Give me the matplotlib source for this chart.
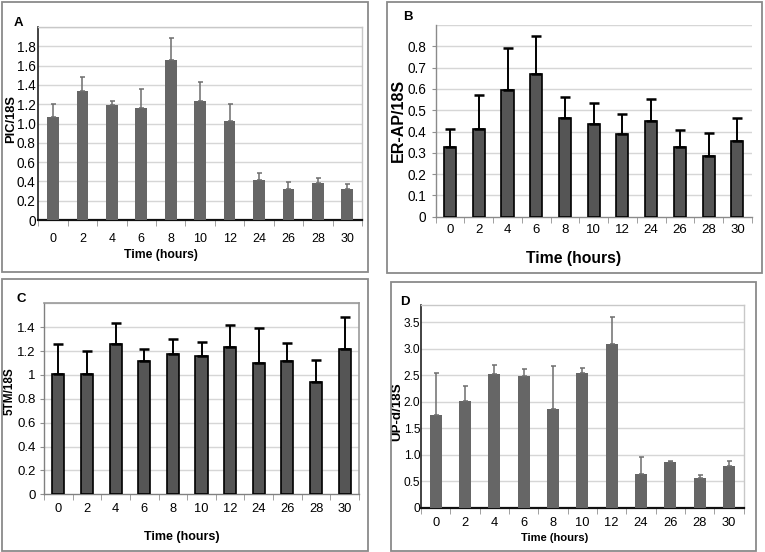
import matplotlib
matplotlib.use("Agg")
import matplotlib.pyplot as plt
from matplotlib.patches import Rectangle
import numpy as np

plt.rcParams['font.family'] = ['Liberation Sans', 'DejaVu Sans']

W, H = 765, 552

times = ['0', '2', '4', '6', '8', '10', '12', '24', '26', '28', '30']

pic_mean = [1.07, 1.34, 1.19, 1.16, 1.66, 1.23, 1.03, 0.41, 0.32, 0.38, 0.32]
pic_err = [0.13, 0.14, 0.04, 0.20, 0.23, 0.20, 0.17, 0.08, 0.07, 0.06, 0.05]

erap_mean = [0.325, 0.41, 0.596, 0.668, 0.464, 0.433, 0.39, 0.45, 0.328, 0.284, 0.354]
erap_err = [0.086, 0.16, 0.194, 0.179, 0.096, 0.10, 0.092, 0.104, 0.081, 0.11, 0.109]

tm5_mean = [1.006, 1.006, 1.255, 1.115, 1.174, 1.157, 1.238, 1.098, 1.118, 0.944, 1.216]
tm5_err = [0.257, 0.194, 0.176, 0.098, 0.123, 0.118, 0.179, 0.294, 0.151, 0.185, 0.271]

upd_mean = [1.75, 2.016, 2.525, 2.487, 1.858, 2.538, 3.085, 0.632, 0.865, 0.569, 0.783]
upd_err = [0.80, 0.284, 0.175, 0.143, 0.812, 0.107, 0.51, 0.321, 0.019, 0.044, 0.094]

yt_A = [0, 0.2, 0.4, 0.6, 0.8, 1.0, 1.2, 1.4, 1.6, 1.8]
yl_A = ['0', '0.2', '0.4', '0.6', '0.8', '1.0', '1.2', '1.4', '1.6', '1.8']
yt_B = [0, 0.1, 0.2, 0.3, 0.4, 0.5, 0.6, 0.7, 0.8]
yl_B = ['0', '0.1', '0.2', '0.3', '0.4', '0.5', '0.6', '0.7', '0.8']
yt_C = [0, 0.2, 0.4, 0.6, 0.8, 1.0, 1.2, 1.4]
yl_C = ['0', '0.2', '0.4', '0.6', '0.8', '1', '1.2', '1.4']
yt_D = [0, 0.5, 1.0, 1.5, 2.0, 2.5, 3.0, 3.5]
yl_D = ['0', '0.5', '1.0', '1.5', '2.0', '2.5', '3.0', '3.5']

fig = plt.figure(figsize=(W / 100, H / 100), dpi=100)


def frect(x0, y0, x1, y1):
    return [x0 / W, 1 - y1 / H, (x1 - x0) / W, (y1 - y0) / H]


def box(x0, y0, x1, y1):
    fig.add_artist(Rectangle((x0 / W, 1 - y1 / H), (x1 - x0) / W, (y1 - y0) / H,
                             transform=fig.transFigure, fill=False,
                             ec='#8a8a8a', lw=1.3))


def panel(px, mean, err, ymax, yt, yl, ylabel, letter, letter_xy,
          xlabel_xy, ylabel_xy, style, tick_fs, lab_fs, xpad, ypad):
    x0, y0, x1, y1 = px
    ax = fig.add_axes(frect(x0, y0, x1, y1))
    x = np.arange(len(times))
    if style == 'light':
        ax.bar(x, mean, width=0.4, color='#666666', zorder=3)
        ax.errorbar(x, mean, yerr=[np.zeros(len(err)), err], fmt='none',
                    ecolor='#6e6e6e', elinewidth=1.1, capsize=1.8,
                    capthick=1.1, zorder=4)
    else:
        ax.bar(x, mean, width=0.42, color='#555555', edgecolor='black',
               linewidth=1.2, zorder=3)
        ax.errorbar(x, mean, yerr=[np.zeros(len(err)), err], fmt='none',
                    ecolor='black', elinewidth=1.4, capsize=3.4,
                    capthick=1.8, zorder=4)
    ax.set_xlim(-0.5, len(times) - 0.5)
    ax.set_ylim(0, ymax)
    ax.set_yticks(yt)
    ax.set_yticklabels(yl, fontsize=tick_fs[1])
    ax.set_xticks(x)
    ax.set_xticklabels(times, fontsize=tick_fs[0])
    ax.set_xticks(np.arange(-0.5, len(times), 1.0), minor=True)
    ax.tick_params(axis='x', which='major', length=0, pad=xpad)
    ax.tick_params(axis='x', which='minor', length=4, color='#909090',
                   direction='out')
    ax.tick_params(axis='y', length=3 if style == 'dark' else 0,
                   color='#909090', pad=ypad)
    grid_vals = list(yt[1:])
    step = yt[1] - yt[0]
    g = yt[-1] + step
    while g <= ymax + 1e-9:
        grid_vals.append(g)
        g += step
    for gv in grid_vals:
        ax.axhline(gv, color='#d6d6d6', lw=1.0, zorder=1)
    ax.set_facecolor('white')
    if style == 'light':
        ax.spines['left'].set_color('#222222')
        ax.spines['left'].set_linewidth(1.2)
        ax.spines['bottom'].set_color('#111111')
        ax.spines['bottom'].set_linewidth(1.6)
        for s in ('top', 'right'):
            ax.spines[s].set_color('#c8c8c8')
            ax.spines[s].set_linewidth(1.0)
    elif letter == 'B':
        for s in ('left', 'bottom'):
            ax.spines[s].set_color('#8a8a8a')
            ax.spines[s].set_linewidth(1.0)
        for s in ('top', 'right'):
            ax.spines[s].set_visible(False)
    else:
        for s in ('left', 'bottom'):
            ax.spines[s].set_color('#808080')
            ax.spines[s].set_linewidth(1.0)
        for s in ('top', 'right'):
            ax.spines[s].set_color('#9a9a9a')
            ax.spines[s].set_linewidth(1.2)
    ax.set_xlabel('Time (hours)', fontsize=lab_fs[0], fontweight='bold')
    ax.xaxis.set_label_coords((xlabel_xy[0] - x0) / (x1 - x0),
                              (y1 - xlabel_xy[1]) / (y1 - y0))
    ax.xaxis.label.set_va('center')
    ax.set_ylabel(ylabel, fontsize=lab_fs[1], fontweight='bold')
    ax.yaxis.set_label_coords((ylabel_xy[0] - x0) / (x1 - x0),
                              (y1 - ylabel_xy[1]) / (y1 - y0))
    ax.yaxis.label.set_va('center')
    ax.yaxis.label.set_zorder(10)
    fig.text(letter_xy[0] / W, 1 - letter_xy[1] / H, letter,
             fontsize=lab_fs[2], fontweight='bold', ha='center', va='center')
    return ax


box(1.5, 1.5, 368, 272)
box(386.5, 1.5, 762, 273)
box(2, 279, 368, 550.5)
box(391.5, 281.5, 756, 550.5)

panel((38.3, 27, 362, 220), pic_mean, pic_err, 2.0, yt_A, yl_A, 'PIC/18S', 'A',
      (18, 23), (161, 255), (11, 119), 'light', (9.0, 9.8),
      (8.8, 9.3, 9.5), 9.0, 2)
panel((435.7, 25, 751.7, 216.7), erap_mean, erap_err, 0.9, yt_B, yl_B,
      'ER-AP/18S', 'B', (408, 17), (574, 258), (398, 120), 'dark', (9.5, 9.8),
      (11.3, 11.5, 9.5), 5.5, 4)
panel((44, 303.3, 359, 494.3), tm5_mean, tm5_err, 1.6, yt_C, yl_C,
      '5TM/18S', 'C', (21, 299), (182, 537), (9.5, 391), 'dark', (9.3, 9.5),
      (9.0, 8.5, 9.5), 6.0, 3)
panel((421, 305, 743.7, 507.7), upd_mean, upd_err, 3.83, yt_D, yl_D,
      'UP-d/18S', 'D', (405, 302), (555, 538), (397.5, 412), 'light', (9.3, 8.6),
      (8.0, 9.6, 9.5), 6.5, 0.5)

fig.savefig('out.png', dpi=100)
